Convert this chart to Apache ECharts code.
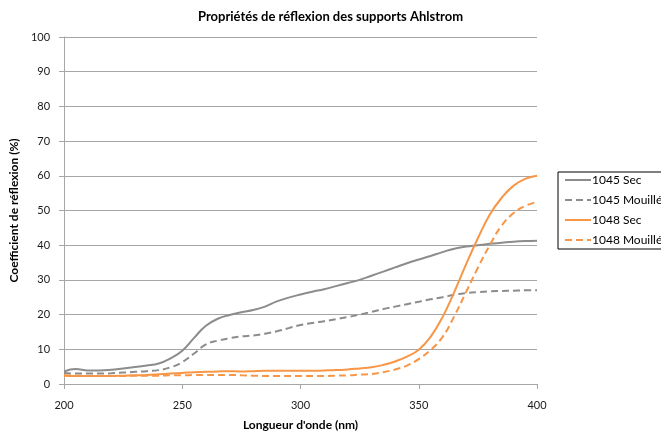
<!DOCTYPE html>
<html>
<head>
<meta charset="utf-8">
<script src="https://cdn.jsdelivr.net/npm/echarts@6/dist/echarts.min.js"></script>
<style>html,body{margin:0;padding:0;background:#fff}#c{width:661px;height:436px}</style>
</head>
<body>
<div id="c"></div>
<script>
var wavelengths = [200,205,210,215,220,225,230,235,240,245,250,255,260,265,270,275,280,285,290,295,300,305,310,315,320,325,330,335,340,345,350,355,360,365,370,375,380,385,390,395,400];
var sec1045 = [3.6,4.3,3.9,3.9,4.1,4.5,4.9,5.3,5.9,7.4,9.6,13.3,16.8,18.8,19.9,20.7,21.3,22.3,23.8,24.9,25.8,26.6,27.3,28.2,29.1,30.0,31.2,32.4,33.6,34.8,35.9,36.9,38.0,39.0,39.6,40.0,40.4,40.7,41.0,41.2,41.3];
var mouille1045 = [3.2,3.0,3.0,3.0,3.1,3.3,3.5,3.7,4.0,4.8,6.3,8.8,11.4,12.5,13.2,13.7,14.0,14.5,15.2,16.1,17.0,17.6,18.1,18.7,19.3,20.0,20.8,21.6,22.3,23.0,23.7,24.4,25.0,25.7,26.2,26.5,26.7,26.8,26.9,27.0,27.0];
var sec1048 = [2.4,2.3,2.3,2.3,2.3,2.4,2.5,2.6,2.8,3.0,3.2,3.4,3.5,3.6,3.7,3.6,3.7,3.8,3.8,3.8,3.8,3.8,3.9,4.0,4.2,4.5,4.8,5.5,6.5,7.9,9.9,13.6,19.2,26.5,34.5,42.0,48.8,53.6,57.1,59.1,60.0];
var mouille1048 = [2.5,2.4,2.3,2.3,2.3,2.3,2.4,2.4,2.4,2.5,2.5,2.6,2.6,2.6,2.6,2.5,2.4,2.3,2.3,2.3,2.3,2.3,2.3,2.4,2.5,2.7,2.9,3.4,4.2,5.3,7.2,9.8,13.5,19.5,26.5,33.5,40.0,45.6,49.2,51.3,52.5];
var seriesNames = ['1045 Sec','1045 Mouillé','1048 Sec','1048 Mouillé'];
var title = 'Propriétés de réflexion des supports Ahlstrom';
var xName = "Longueur d'onde (nm)";
var yName = 'Coefficient de réflexion (%)';

function pairs(vals){ return wavelengths.map(function(w,i){ return [w, vals[i]]; }); }
var GRAY = '#8c8c8c', ORANGE = '#f79646';
var FONT = 'Lato, "Open Sans", sans-serif';
function mk(name, vals, color, dashed){
  return { name:name, type:'line', data:pairs(vals), smooth:0.45, symbol:'none', showSymbol:false,
    lineStyle:{ color:color, width:2, type: dashed ? [7,4] : 'solid' }, itemStyle:{color:color} };
}
var chart = echarts.init(document.getElementById('c'), null, {renderer:'canvas'});
chart.setOption({
  animation:false,
  backgroundColor:'#fff',
  textStyle:{fontFamily:FONT},
  title:{ text:title, left:'center', top:5, textStyle:{fontFamily:FONT, fontSize:13, fontWeight:'bold', color:'#000'} },
  grid:{ left:64, right:124, top:37, bottom:50 },
  legend:{ orient:'vertical', left:558, top:172, itemWidth:26, itemHeight:12, itemGap:8,
    padding:[2,20,3,6], borderColor:'#000', borderWidth:1, borderRadius:0,
    itemStyle:{opacity:0},
    textStyle:{fontFamily:FONT, fontSize:12, color:'#000', padding:[0,0,0,-4]}, data:seriesNames },
  xAxis:{ type:'value', min:200, max:400, interval:50,
    name:xName, nameLocation:'middle', nameGap:35,
    nameTextStyle:{fontFamily:FONT, fontSize:12, fontWeight:'bold', color:'#000'},
    axisLine:{show:true, lineStyle:{color:'#a6a6a6'}},
    axisTick:{show:true, length:5, lineStyle:{color:'#a6a6a6'}},
    axisLabel:{fontFamily:FONT, fontSize:11, color:'#1a1a1a', margin:16},
    splitLine:{show:false} },
  yAxis:{ type:'value', min:0, max:100, interval:10,
    name:yName, nameLocation:'middle', nameGap:38,
    nameTextStyle:{fontFamily:FONT, fontSize:12, fontWeight:'bold', color:'#000'},
    axisLine:{show:true, lineStyle:{color:'#a6a6a6'}},
    axisTick:{show:true, length:5, lineStyle:{color:'#a6a6a6'}},
    axisLabel:{fontFamily:FONT, fontSize:11, color:'#1a1a1a', margin:14},
    splitLine:{show:true, lineStyle:{color:'#a6a6a6', width:1}} },
  series:[ mk(seriesNames[0], sec1045, GRAY, false), mk(seriesNames[1], mouille1045, GRAY, true),
           mk(seriesNames[2], sec1048, ORANGE, false), mk(seriesNames[3], mouille1048, ORANGE, true) ]
});
</script>
</body>
</html>
